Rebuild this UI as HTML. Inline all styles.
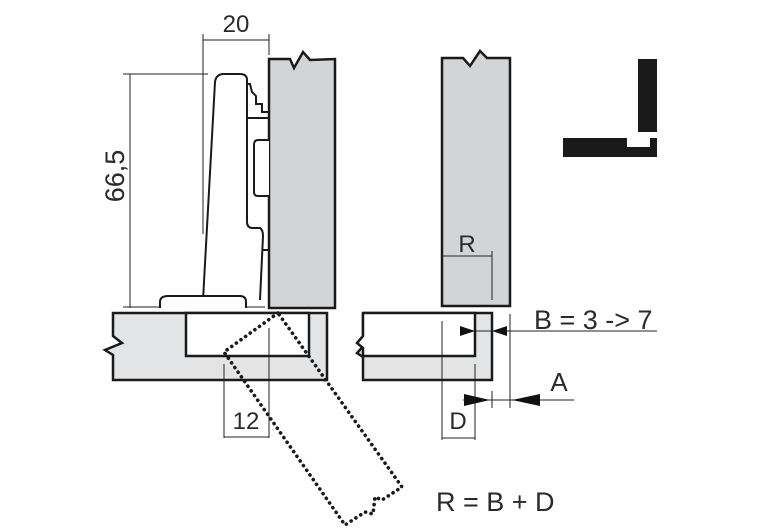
<!DOCTYPE html>
<html><head><meta charset="utf-8"><style>
html,body{margin:0;padding:0;background:#fff}
svg{display:block}
text{font-family:"Liberation Sans",sans-serif;fill:#2a2a2a}
</style></head><body>
<svg width="760" height="531" viewBox="0 0 760 531" xmlns="http://www.w3.org/2000/svg">
<g stroke="#222" stroke-width="1" fill="none">
<line x1="203" y1="40" x2="269" y2="40"/>
<line x1="203" y1="34" x2="203" y2="234"/>
<line x1="269" y1="34" x2="269" y2="55"/>
<line x1="123" y1="74" x2="208" y2="74"/>
<line x1="130" y1="74" x2="130" y2="308"/>
<line x1="123" y1="307" x2="265" y2="307"/>
</g>
<path d="M269,59 L290,59 L294,68 L303,52 L310,60 L335,59 L335,308 L269,308 Z" fill="#d3d4d5" stroke="#1a1a1a" stroke-width="2.5"/>
<g fill="#fff" stroke="#1a1a1a" stroke-width="2">
<path d="M203,300 L215,82 Q216,74 224,74 L240,74 Q247,74 247,80 L247,222 Q247,228 253,228 L260,228 Q263,230 263,236 L260,300"/>
<path d="M160,308 L160,302 Q160,296 168,296 L240,296 Q246,296 246,302 L246,308"/>
<path d="M247,84 L250,84 L252,92 L256,96 L256,104 L262,104 L262,112 L269,112"/>
<path d="M247,118 L269,118"/>
<path d="M269,140 L258,140 Q254,140 254,145 L254,192 Q254,196 258,196 L269,196"/>
<path d="M262,250 L269,250" />
</g>
<path d="M113,313 L327,313 L327,380 L113,380 L113,355 L105,350 L122,343 L113,336 Z" fill="#e3e4e5" stroke="#1a1a1a" stroke-width="2.5"/>
<rect x="186" y="313" width="123" height="43" fill="#fff" stroke="#1a1a1a" stroke-width="2.5"/>
<g stroke="#222" stroke-width="1">
<line x1="224" y1="364" x2="224" y2="438"/>
<line x1="269" y1="328" x2="269" y2="438"/>
<line x1="224" y1="437" x2="269" y2="437"/>
</g>
<path d="M278,313 L224,352 L345,525 L365,512 L373,514 L375,497 L382,500 L402,487 Z" fill="none" stroke="#1a1a1a" stroke-width="3.6" stroke-linecap="round" stroke-dasharray="0.1,5.6"/>
<path d="M442,58 L463,58 L470,66 L480,51 L487,58 L510,58 L510,306 L442,306 Z" fill="#d3d4d5" stroke="#1a1a1a" stroke-width="2.5"/>
<g stroke="#222" stroke-width="1">
<line x1="443" y1="256" x2="492" y2="256"/>
<line x1="492" y1="251" x2="492" y2="300"/>
</g>
<path d="M363,313 L492,313 L492,380 L363,380 L363,357 L357,353 L369,340 L363,336 Z" fill="#e3e4e5" stroke="#1a1a1a" stroke-width="2.5"/>
<path d="M363,313 L475,313 L475,356 L363,356" fill="#fff" stroke="#1a1a1a" stroke-width="2.5"/>
<path d="M363,313 L363,336 L357,343 L363,348 L363,356" fill="#fff" stroke="#1a1a1a" stroke-width="2.5"/>
<g stroke="#222" stroke-width="1">
<line x1="442" y1="321" x2="442" y2="440"/>
<line x1="475" y1="364" x2="475" y2="440"/>
<line x1="510" y1="314" x2="510" y2="408"/>
<line x1="442" y1="438" x2="475" y2="438"/>
<line x1="460" y1="331" x2="657" y2="331"/>
<line x1="463" y1="400" x2="574" y2="400"/>
<line x1="492" y1="391" x2="492" y2="408"/>
</g>
<g fill="#111">
<polygon points="460,326 475,331 460,336"/>
<polygon points="507,326 492,331 507,336"/>
<polygon points="464,394 490,400 464,406"/>
<polygon points="540,394 512,400 540,406"/>
</g>
<rect x="638" y="59" width="19" height="73" fill="#1a1a1a"/>
<path d="M563,138 L627,138 L627,147 L650,147 L650,138 L657,138 L657,157 L563,157 Z" fill="#1a1a1a"/>
<text x="236" y="32" font-size="24" text-anchor="middle">20</text>
<text x="0" y="0" font-size="27" text-anchor="middle" transform="translate(124,176) rotate(-90)">66,5</text>
<text x="246" y="429" font-size="24" text-anchor="middle">12</text>
<text x="467" y="252" font-size="24" text-anchor="middle">R</text>
<text x="458" y="429" font-size="24" text-anchor="middle">D</text>
<text x="534" y="329" font-size="27">B = 3 -&gt; 7</text>
<text x="559" y="391" font-size="26" text-anchor="middle">A</text>
<text x="436" y="511" font-size="27">R = B + D</text>
</svg>
</body></html>
